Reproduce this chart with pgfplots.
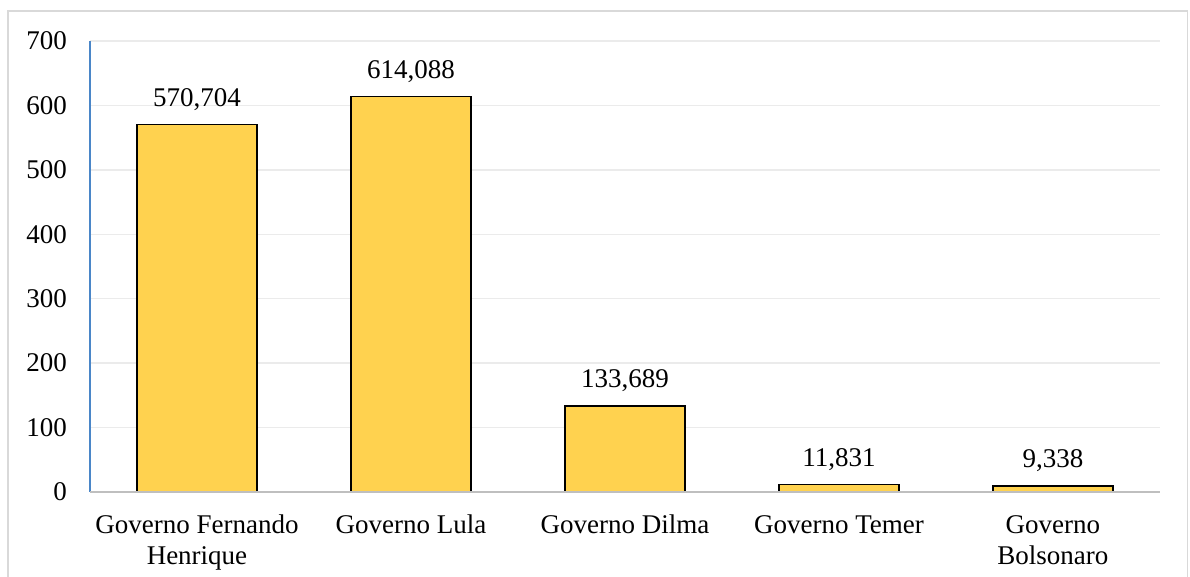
\documentclass[border=0pt]{standalone}
\usepackage{fontspec}
\setmainfont{Liberation Serif}
\usepackage{pgfplots}
\usepackage{pgfplotstable}
\pgfplotsset{compat=1.18}
\definecolor{barfill}{HTML}{FFD24F}
\definecolor{frame}{HTML}{D9D9D9}
\definecolor{gridc}{HTML}{EBEBEB}
\definecolor{yaxisc}{HTML}{4A86C8}
\definecolor{xaxisc}{HTML}{BFBFBF}
\pgfplotstableread{
x y label
0 570.704 570,704
1 614.088 614,088
2 133.689 133,689
3 11.831 11,831
4 9.338 9,338
}\datatable
\begin{document}
\fontsize{27}{31}\selectfont
\begin{tikzpicture}[x=1pt,y=1pt]
\draw[color=frame, line width=1.5pt] (8,-30) rectangle (1187.5,566);
\begin{axis}[
  at={(90pt,85pt)}, anchor=south west,
  scale only axis, width=1070pt, height=451pt,
  xmin=-0.5, xmax=4.5, ymin=0, ymax=700,
  ytick={0,100,...,700},
  xtick={0,1,2,3,4},
  xticklabels={{Governo Fernando\\Henrique},{Governo Lula},{Governo Dilma},{Governo Temer},{Governo\\Bolsonaro}},
  xticklabel style={align=center, anchor=north, inner sep=0pt, yshift=-23pt, font=\fontsize{27}{31}\selectfont},
  yticklabel style={anchor=east, inner sep=0pt, xshift=-23pt, font=\fontsize{27}{31}\selectfont},
  /pgf/number format/assume math mode=true,
  major tick length=0pt,
  axis line style={draw=none},
  ymajorgrids, grid style={color=gridc, line width=1.3pt},
  clip=false,
  ybar, bar width=120pt,
  nodes near coords,
  point meta=explicit symbolic,
  every node near coord/.append style={anchor=south, inner sep=0pt, text depth=0pt, yshift=17.5pt, font=\fontsize{27}{31}\selectfont, black},
]
\addplot[fill=barfill, draw=black, line width=1.3pt] table[x=x, y=y, meta=label] {\datatable};
\draw[color=yaxisc, line width=1.5pt] (rel axis cs:0,0) -- (rel axis cs:0,1);
\draw[color=xaxisc, line width=2.5pt] (rel axis cs:0,0) -- (rel axis cs:1,0);
\end{axis}
\pgfresetboundingbox
\path (0,0) rectangle (1190,577);
\end{tikzpicture}
\end{document}
